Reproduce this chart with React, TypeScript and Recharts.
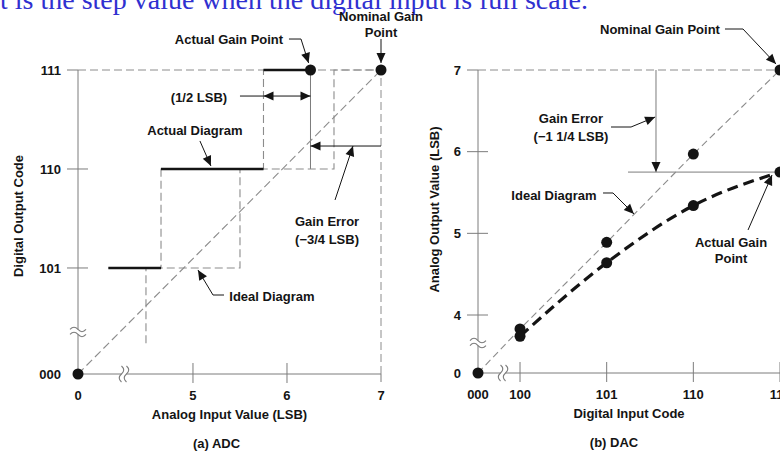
import React from "react";
import {
  ComposedChart,
  Line,
  Scatter,
  XAxis,
  YAxis,
  ReferenceLine,
  ReferenceDot,
} from "recharts";

// ADC: output code against analog input (LSB)
const adcCodeLabels = ["000", "101", "110", "111"];
const adcCodeValues = [0, 5, 6, 7];
const adcInputLabels = ["0", "5", "6", "7"];
const adcInputValues = [0, 5, 6, 7];
const adcIdealEdges = [4.5, 5.5, 6.5]; // ideal transitions into 101 / 110 / 111
const adcActualStarts = [4.1, 4.66, 5.75]; // actual 101 / 110 / 111 treads begin
const adcActualGain = 6.25; // 111 reached 3/4 LSB early
const adcFullScale = 7;

// DAC: analog output (LSB) against input code
const dacCodeLabels = ["000", "100", "101", "110", "111"];
const dacCodeValues = [0, 4, 5, 6, 7];
const dacOutputLabels = ["0", "4", "5", "6", "7"];
const dacOutputValues = [0, 4, 5, 6, 7];
const dacIdeal = [3.83, 4.89, 5.97, 7];
const dacActual = [3.74, 4.64, 5.34, 5.75]; // full scale 1 1/4 LSB low

// where "0" sits on each axis once the break is taken out
const ADC_ZERO_X = 3.777;
const ADC_ZERO_Y = 3.929;
const DAC_ZERO_X = 3.515;
const DAC_ZERO_Y = 3.29;

const FONT = '"Liberation Sans", Arial, Helvetica, sans-serif';
const INK = "#141414";
const AXIS = "#7c7c7c";
const DASH = "#8c8c8c";

const at0 = (zero: number) => (v: number) => (v === 0 ? zero : v);

const same = (a: number, b: number) => Math.abs(a - b) < 1e-6;

function YTick(props: any) {
  const { x, y, payload, labels, values, top } = props;
  const i = values.findIndex((v: number) => same(v, payload.value));
  return (
    <g>
      {i > 0 && (
        <line
          x1={x - 11}
          y1={y}
          x2={payload.value >= top ? x : x + 10}
          y2={y}
          stroke={AXIS}
        />
      )}
      <text
        x={x - 17}
        y={y}
        dy="0.35em"
        textAnchor="end"
        fontFamily={FONT}
        fontSize={13}
        fontWeight="bold"
        fill={INK}
      >
        {labels[i]}
      </text>
    </g>
  );
}

function XTick(props: any) {
  const { x, y, payload, labels, values, right } = props;
  const i = values.findIndex((v: number) => same(v, payload.value));
  return (
    <g>
      {i > 0 && (
        <line
          x1={x}
          y1={payload.value >= right ? y : y - 11}
          x2={x}
          y2={y + 9}
          stroke={AXIS}
          strokeDasharray={payload.value >= right ? "8 4" : undefined}
        />
      )}
      <text
        x={x}
        y={y + 21}
        dy="0.35em"
        textAnchor="middle"
        fontFamily={FONT}
        fontSize={13}
        fontWeight="bold"
        fill={INK}
      >
        {labels[i]}
      </text>
    </g>
  );
}

function XTitle(props: any) {
  const { viewBox, title, caption, captionShift } = props;
  const cx = viewBox.x + viewBox.width / 2;
  const common = {
    textAnchor: "middle" as const,
    fontFamily: FONT,
    fontSize: 13,
    fontWeight: "bold",
    fill: INK,
    dy: "0.35em",
  };
  return (
    <g>
      <text x={cx} y={viewBox.y + 40} {...common}>
        {title}
      </text>
      <text x={cx + captionShift} y={viewBox.y + 69} {...common}>
        {caption}
      </text>
    </g>
  );
}

function YTitle(props: any) {
  const { viewBox, title, dx, shift } = props;
  const cx = viewBox.x + dx;
  const cy = viewBox.y + viewBox.height / 2 + shift;
  return (
    <text
      transform={`translate(${cx} ${cy}) rotate(-90)`}
      textAnchor="middle"
      dy="0.35em"
      fontFamily={FONT}
      fontSize={13}
      fontWeight="bold"
      fill={INK}
    >
      {title}
    </text>
  );
}

function Note({ cx, cy, lines, gap }: any) {
  return (
    <text
      x={cx}
      y={cy}
      textAnchor="middle"
      fontFamily={FONT}
      fontSize={13}
      fontWeight="bold"
      fill={INK}
    >
      {lines.map((t: string, i: number) => (
        <tspan key={i} x={cx} dy={i === 0 ? "0.35em" : gap}>
          {t}
        </tspan>
      ))}
    </text>
  );
}

function ArrowLine({ x1, y1, x2, y2, both, stroke }: any) {
  const head = (ax: number, ay: number, bx: number, by: number) => {
    const a = Math.atan2(by - ay, bx - ax);
    const c = Math.cos(a);
    const s = Math.sin(a);
    const L = 10;
    const W = 4.5;
    const px = bx - L * c;
    const py = by - L * s;
    return `${bx},${by} ${px - s * W},${py + c * W} ${px + s * W},${py - c * W}`;
  };
  return (
    <g>
      <line x1={x1} y1={y1} x2={x2} y2={y2} stroke={stroke || INK} strokeWidth={1} />
      <polygon points={head(x1, y1, x2, y2)} fill={INK} />
      {both && <polygon points={head(x2, y2, x1, y1)} fill={INK} />}
    </g>
  );
}

function AxisBreak({ cx, cy, turn }: any) {
  const wave = (o: number) => `M -8 ${o} q 4 -4.5 8 0 t 8 0`;
  return (
    <g transform={`translate(${cx} ${cy}) rotate(${turn ? 90 : 0})`}>
      <rect x={-2} y={-2.5} width={4} height={5} fill="#fff" />
      <path d={wave(-2.5)} fill="none" stroke={AXIS} strokeWidth={1.1} />
      <path d={wave(2.5)} fill="none" stroke={AXIS} strokeWidth={1.1} />
    </g>
  );
}

const note = (x: number, y: number, lines: string[], gap = 16) => (
  <ReferenceDot
    x={x}
    y={y}
    r={0}
    ifOverflow="visible"
    shape={(p: any) => <Note cx={p.cx} cy={p.cy} lines={lines} gap={gap} />}
  />
);

const seg = (a: number[], b: number[], extra: any = {}) => (
  <ReferenceLine
    segment={[
      { x: a[0], y: a[1] },
      { x: b[0], y: b[1] },
    ]}
    ifOverflow="visible"
    stroke={INK}
    strokeWidth={1}
    {...extra}
  />
);

const arrow = (a: number[], b: number[], both = false, stroke?: string) => (
  <ReferenceLine
    segment={[
      { x: a[0], y: a[1] },
      { x: b[0], y: b[1] },
    ]}
    ifOverflow="visible"
    shape={(p: any) => (
      <ArrowLine x1={p.x1} y1={p.y1} x2={p.x2} y2={p.y2} both={both} stroke={stroke} />
    )}
  />
);

const axisBreak = (x: number, y: number, turn: boolean) => (
  <ReferenceDot
    x={x}
    y={y}
    r={0}
    ifOverflow="visible"
    shape={(p: any) => <AxisBreak cx={p.cx} cy={p.cy} turn={turn} />}
  />
);

const dot = (p: any) => <circle cx={p.cx} cy={p.cy} r={5.5} fill={INK} />;

const AdcChart = () => {
  const ax = at0(ADC_ZERO_X);
  const ay = at0(ADC_ZERO_Y);
  const levels = adcCodeValues.slice(1);

  const idealDiagonal = [
    { x: ax(0), y: ay(0) },
    { x: adcFullScale, y: 7 },
  ];
  // ideal staircase, riser into 101 cut just under the break
  const idealSteps = [
    { x: adcIdealEdges[0], y: 4.24 },
    ...adcIdealEdges.map((e, i) => ({ x: e, y: levels[i] })),
    { x: adcFullScale, y: 7 },
  ];
  const actualRisers = [
    ...adcActualStarts.map((s, i) => ({ x: s, y: levels[i] })),
    { x: adcActualGain, y: 7 },
  ];
  const actualTreads = adcActualStarts.flatMap((s, i) => {
    const end = i + 1 < adcActualStarts.length ? adcActualStarts[i + 1] : adcActualGain;
    return [
      { x: s, y: levels[i] },
      { x: end, y: levels[i] },
      { x: end, y: null },
    ];
  });
  const points = [
    { x: ax(0), y: ay(0) },
    { x: adcActualGain, y: 7 },
    { x: adcFullScale, y: 7 },
  ];

  return (
    <ComposedChart width={440} height={451} margin={{ top: 70, right: 59, bottom: 0, left: 0 }}>
      <XAxis
        type="number"
        dataKey="x"
        domain={[ADC_ZERO_X, adcFullScale]}
        ticks={adcInputValues.map(ax)}
        interval={0}
        tickSize={0}
        tickMargin={0}
        tickLine={false}
        axisLine={{ stroke: AXIS }}
        height={77}
        tick={<XTick labels={adcInputLabels} values={adcInputValues.map(ax)} right={adcFullScale} />}
        label={<XTitle title="Analog Input Value (LSB)" caption="(a) ADC" captionShift={-13} />}
      />
      <YAxis
        type="number"
        dataKey="y"
        domain={[ADC_ZERO_Y, 7]}
        ticks={adcCodeValues.map(ay)}
        interval={0}
        tickSize={0}
        tickMargin={0}
        tickLine={false}
        axisLine={{ stroke: AXIS }}
        width={78}
        tick={<YTick labels={adcCodeLabels} values={adcCodeValues.map(ay)} top={7} />}
        label={<YTitle title="Digital Output Code" dx={18} shift={-6} />}
      />

      <ReferenceLine y={7} stroke={DASH} strokeDasharray="8 4" />
      <ReferenceLine x={adcFullScale} stroke={DASH} strokeDasharray="8 4" />
      {seg([adcActualGain, 7], [adcActualGain, 6], { stroke: AXIS })}

      <Line
        data={idealDiagonal}
        dataKey="y"
        type="linear"
        stroke={DASH}
        strokeWidth={1.1}
        strokeDasharray="8 4"
        dot={false}
        isAnimationActive={false}
      />
      <Line
        data={idealSteps}
        dataKey="y"
        type="stepAfter"
        stroke={DASH}
        strokeWidth={1.1}
        strokeDasharray="8 4"
        dot={false}
        isAnimationActive={false}
      />
      <Line
        data={actualRisers}
        dataKey="y"
        type="stepAfter"
        stroke={DASH}
        strokeWidth={1.1}
        strokeDasharray="8 4"
        dot={false}
        isAnimationActive={false}
      />
      <Line
        data={actualTreads}
        dataKey="y"
        type="linear"
        stroke={INK}
        strokeWidth={2.6}
        connectNulls={false}
        dot={false}
        isAnimationActive={false}
      />
      <Scatter data={points} dataKey="y" shape={dot} isAnimationActive={false} />

      {axisBreak(ADC_ZERO_X, 4.354, false)}
      {axisBreak(4.266, ADC_ZERO_Y, true)}

      {note(adcFullScale, 7.545, ["Nominal Gain", "Point"])}
      {arrow([adcFullScale, 7.313], [adcFullScale, 7.071])}

      {note(5.383, 7.313, ["Actual Gain Point"])}
      {seg([6.021, 7.313], [6.149, 7.313])}
      {arrow([6.149, 7.313], [adcActualGain - 0.02, 7.071])}

      {note(5.064, 6.727, ["(1/2 LSB)"])}
      {seg([5.5, 6.737], [adcActualStarts[2], 6.737])}
      {arrow([adcActualStarts[2], 6.737], [adcActualGain, 6.737], true)}

      {note(5.021, 6.394, ["Actual Diagram"])}
      {arrow([5.074, 6.283], [5.191, 6.03])}

      {arrow([adcFullScale, 6.232], [adcActualGain, 6.232])}
      {note(6.426, 5.475, ["Gain Error", "(\u22123/4 LSB)"], 18)}
      {arrow([6.511, 5.687], [6.702, 6.232])}

      {note(5.84, 4.717, ["Ideal Diagram"])}
      {seg([5.33, 4.727], [5.213, 4.727])}
      {arrow([5.213, 4.727], [5.053, 4.98])}
    </ComposedChart>
  );
};

const DacChart = () => {
  const ax = at0(DAC_ZERO_X);
  const ay = at0(DAC_ZERO_Y);
  const codes = dacCodeValues.slice(1);
  const ideal = dacIdeal.map((v, i) => ({ x: codes[i], y: v }));
  const actual = dacActual.map((v, i) => ({ x: codes[i], y: v }));
  const idealLine = [{ x: ax(0), y: ay(0) }, ...ideal];
  const points = [{ x: ax(0), y: ay(0) }, ...ideal, ...actual];
  const fullIdeal = dacIdeal[dacIdeal.length - 1];
  const fullActual = dacActual[dacActual.length - 1];
  const errX = 5.569;

  return (
    <ComposedChart width={400} height={451} margin={{ top: 70, right: 20, bottom: 0, left: 0 }}>
      <XAxis
        type="number"
        dataKey="x"
        domain={[DAC_ZERO_X, 7]}
        ticks={dacCodeValues.map(ax)}
        interval={0}
        tickSize={0}
        tickMargin={0}
        tickLine={false}
        axisLine={{ stroke: AXIS }}
        height={78}
        tick={<XTick labels={dacCodeLabels} values={dacCodeValues.map(ax)} right={99} />}
        label={<XTitle title="Digital Input Code" caption="(b) DAC" captionShift={-15} />}
      />
      <YAxis
        type="number"
        dataKey="y"
        domain={[DAC_ZERO_Y, 7]}
        ticks={dacOutputValues.map(ay)}
        interval={0}
        tickSize={0}
        tickMargin={0}
        tickLine={false}
        axisLine={{ stroke: AXIS }}
        width={78}
        tick={<YTick labels={dacOutputLabels} values={dacOutputValues.map(ay)} top={7} />}
        label={<YTitle title="Analog Output Value (LSB)" dx={34} shift={-12} />}
      />

      <ReferenceLine y={fullIdeal} stroke={DASH} strokeDasharray="8 4" />
      {seg([5.246, fullActual], [7, fullActual], { stroke: AXIS })}
      {arrow([errX, fullIdeal], [errX, fullActual], false, AXIS)}

      <Line
        data={idealLine}
        dataKey="y"
        type="linear"
        stroke={DASH}
        strokeWidth={1.1}
        strokeDasharray="7 4"
        dot={false}
        isAnimationActive={false}
      />
      <Line
        data={actual}
        dataKey="y"
        type="monotone"
        stroke={INK}
        strokeWidth={3.2}
        strokeDasharray="11 6"
        dot={false}
        isAnimationActive={false}
      />
      <Scatter data={points} dataKey="y" shape={dot} isAnimationActive={false} />

      {axisBreak(DAC_ZERO_X, 3.657, false)}
      {axisBreak(3.804, DAC_ZERO_Y, true)}

      {note(5.615, 7.502, ["Nominal Gain Point"])}
      {seg([6.365, 7.502], [6.573, 7.502])}
      {arrow([6.573, 7.502], [6.954, 7.073])}

      {note(4.588, 6.412, ["Gain Error", "(\u22121 1/4 LSB)"], 18)}
      {seg([5.05, 6.302], [5.281, 6.302])}
      {arrow([5.281, 6.302], [errX - 0.01, 6.424])}

      {note(4.392, 5.469, ["Ideal Diagram"])}
      {seg([4.958, 5.494], [5.073, 5.494])}
      {arrow([5.073, 5.494], [5.315, 5.237])}

      {note(6.435, 4.894, ["Actual Gain", "Point"])}
      {arrow([6.631, 5.041], [6.908, 5.714])}
    </ComposedChart>
  );
};

export default function App() {
  return (
    <div
      style={{
        position: "fixed",
        left: 0,
        top: 0,
        width: 780,
        height: 451,
        overflow: "hidden",
        background: "#fff",
      }}
    >
      <svg width={780} height={24} style={{ position: "absolute", left: 0, top: 0 }}>
        <text x={0} y={9} fontFamily='"Liberation Serif", "Times New Roman", serif' fontSize={28} fill="#3030d0">
          t is the step value when the digital input is full scale.
        </text>
      </svg>
      <div style={{ position: "absolute", left: 400, top: 0 }}>
        <DacChart />
      </div>
      <div style={{ position: "absolute", left: 0, top: 0 }}>
        <AdcChart />
      </div>
    </div>
  );
}
